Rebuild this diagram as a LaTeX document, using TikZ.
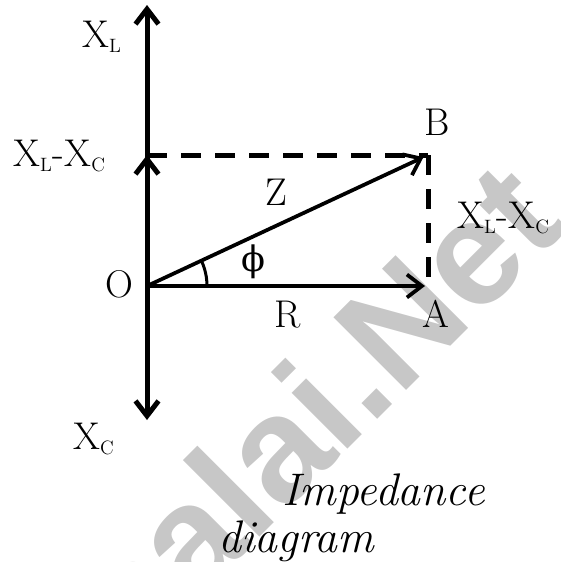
\documentclass[tikz,border=0pt]{standalone}
\usepackage{fontspec}
\newfontfamily\wmfont{Liberation Sans}
\newfontfamily\grfont{DejaVu Serif}
\usetikzlibrary{arrows.meta,angles}
\newcommand{\XLC}{X$_{\scriptscriptstyle\mathrm{L}}$-X$_{\scriptscriptstyle\mathrm{C}}$}

\begin{document}
\begin{tikzpicture}[x=0.2mm,y=-0.2mm,
    >={Straight Barb[length=3mm,width=4.6mm]},
    lbl/.style={inner sep=0pt,font=\fontsize{22}{26}\selectfont},
    captext/.style={inner sep=0pt,font=\fontsize{26}{30}\selectfont\itshape},
    wm/.style={inner sep=0pt,text=black!22,font=\wmfont\bfseries\fontsize{85}{95}\selectfont},
    axis/.style={line width=1mm},
    vec/.style={line width=0.75mm},
    dashline/.style={line width=1mm,dash pattern=on 4mm off 2.8mm}]
  \clip (0,0) rectangle (561,562);

  % watermark
  \node[wm,rotate=45,anchor=base east] (wm) at (570,227) {Kalvisalai.Net};

  \coordinate (O) at (147,286);
  \coordinate (A) at (428,286);
  \coordinate (B) at (428,155);
  \coordinate (P) at (147,155);
  \coordinate (top) at (147,5);
  \coordinate (bot) at (147,420);

  \node[lbl,anchor=base west] (XL) at (82,47) {X$_{\scriptscriptstyle\mathrm{L}}$};
  \node[lbl,anchor=base west] (XLCleft) at (13,166) {\XLC};
  \node[lbl,anchor=base] (Blbl) at (437,135) {B};
  \node[lbl,anchor=base] (Z) at (276,205) {Z};
  \node[lbl,anchor=base west] (XLCright) at (457,228) {\XLC};
  \node[lbl,font=\grfont\fontsize{20}{24}\selectfont] (phi) at (253,262) {ϕ};
  \node[lbl,anchor=base] (Olbl) at (119,297) {O};
  \node[lbl,anchor=base] (R) at (288,327) {R};
  \node[lbl,anchor=base] (Albl) at (436,327) {A};
  \node[lbl,anchor=base west] (XC) at (73,449) {X$_{\scriptscriptstyle\mathrm{C}}$};
  \node[captext,anchor=base west] (cap1) at (282,505) {Impedance};
  \node[captext,anchor=base west] (cap2) at (218,552) {diagram};

  \draw[axis] (O) edge[->] (top);
  \draw[axis] (O) edge[->] (bot);
  \draw[axis] (O) edge[->] (P);
  \draw[dashline] (P) -- (B);
  \draw[dashline] (B) -- (A);
  \draw[vec] (O) edge[->,shorten >=1mm] (B);
  \draw[vec] (O) edge[->,shorten >=0.6mm] (A);
  \pic[draw,line width=0.6mm,angle radius=12mm] {angle=A--O--B};
\end{tikzpicture}
\end{document}
